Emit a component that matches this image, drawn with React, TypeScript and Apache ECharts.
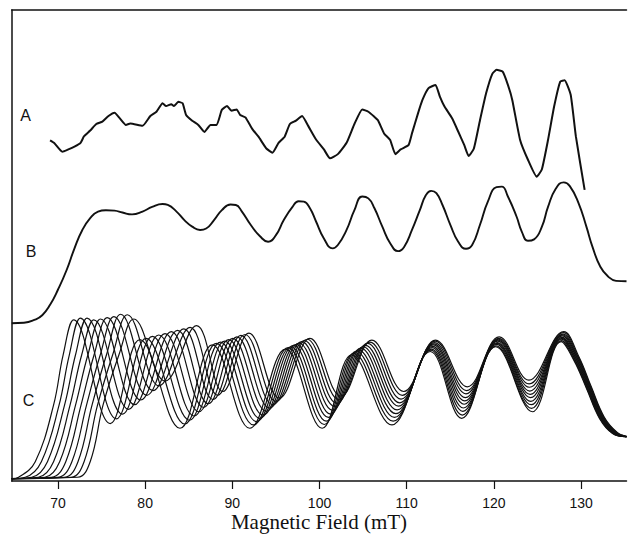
import React, { useEffect, useRef } from "react";
import * as echarts from "echarts";

// Field values in mT, signal in arbitrary units (0..100 of the vertical frame)
const fieldTicks = [70, 80, 90, 100, 110, 120, 130];
const axisTitle = "Magnetic Field (mT)";

const traceA: [number, number][] = [
  [69.1, 72.3], [69.6, 71.7], [70.5, 69.9], [71.2, 70.4], [71.9, 71.0], [72.6, 71.8], [73.0, 73.2],
  [73.7, 74.4], [74.4, 75.8], [75.1, 76.3], [75.8, 77.5], [76.5, 78.2], [77.1, 77.0], [77.8, 75.6],
  [78.3, 75.9], [79.7, 75.4], [80.6, 77.5], [81.3, 78.4], [82.0, 80.2], [82.4, 79.6], [83.0, 80.0],
  [83.3, 79.6], [83.8, 80.5], [84.3, 80.2], [84.7, 77.7], [85.4, 76.5], [86.1, 75.6], [86.8, 74.1],
  [87.5, 75.6], [88.2, 75.6], [88.8, 78.8], [89.4, 79.6], [89.9, 78.6], [90.5, 78.9], [90.9, 77.7],
  [91.5, 77.2], [92.3, 74.7], [93.0, 73.1], [93.9, 70.6], [94.6, 69.7], [95.3, 71.8], [96.0, 73.1],
  [96.6, 75.8], [97.3, 76.5], [98.0, 77.5], [98.7, 75.4], [99.6, 72.5], [100.5, 70.4], [101.2, 68.5],
  [102.1, 69.4], [103.1, 71.8], [104.0, 75.8], [104.9, 78.9], [105.6, 78.4], [106.3, 77.3], [106.7, 76.6],
  [107.4, 73.8], [108.1, 72.4], [108.7, 69.4], [109.3, 70.4], [110.2, 71.3], [110.6, 73.8], [111.3, 78.1],
  [111.8, 80.9], [112.5, 83.4], [113.3, 84.1], [113.8, 81.6], [114.3, 79.6], [115.2, 77.0], [115.9, 74.2],
  [116.6, 71.3], [117.1, 69.0], [117.7, 70.6], [118.4, 76.6], [119.1, 82.3], [119.8, 86.4], [120.3, 87.3],
  [121.0, 86.9], [121.6, 84.1], [122.1, 80.9], [123.0, 72.4], [123.9, 68.2], [124.9, 64.6], [125.5, 66.2],
  [126.2, 72.4], [126.9, 79.5], [127.6, 84.8], [128.1, 85.1], [128.8, 82.0], [129.4, 73.1], [130.4, 61.8],
];

const traceB: [number, number][] = [
  [64.7, 33.5], [66.1, 33.6], [67.3, 34.2], [68.2, 35.2], [69.1, 37.4], [70.0, 40.6],
  [71.0, 44.8], [71.9, 49.4], [72.8, 53.3], [73.7, 55.8], [74.6, 57.2], [75.5, 57.5], [76.5, 57.4],
  [77.4, 57.0], [78.5, 56.6], [79.7, 57.2], [80.8, 58.2], [82.0, 58.8], [82.6, 58.6], [83.6, 57.2],
  [84.5, 55.4], [85.4, 54.0], [86.3, 53.3], [87.0, 53.6], [87.9, 55.4], [88.8, 57.5], [89.8, 58.7],
  [90.4, 58.6], [91.1, 57.2], [92.1, 54.4], [93.2, 51.9], [94.1, 50.8], [95.0, 52.2], [95.9, 55.4],
  [96.9, 58.2], [97.6, 59.4], [98.2, 59.3], [98.9, 57.9], [99.6, 55.1], [100.5, 51.5], [101.5, 49.4],
  [102.1, 50.1], [103.1, 53.3], [104.0, 57.5], [104.9, 60.4], [105.6, 60.0], [106.3, 57.9], [107.2, 54.0],
  [108.1, 50.5], [109.0, 48.8], [109.7, 49.7], [110.6, 53.3], [111.5, 57.5], [112.2, 60.7], [112.8, 61.6],
  [113.4, 61.1], [114.1, 58.6], [115.0, 54.4], [115.9, 50.8], [116.8, 49.3], [117.5, 50.1], [118.4, 54.4],
  [119.3, 59.3], [120.3, 62.4], [120.9, 62.5], [121.6, 60.4], [122.6, 56.1], [123.2, 52.9], [123.9, 51.0],
  [124.6, 51.3], [125.5, 54.0], [126.2, 58.2], [127.1, 62.1], [128.0, 63.4], [128.7, 62.6], [129.7, 59.0],
  [130.6, 54.0], [131.3, 49.7], [132.2, 45.5], [133.1, 43.4], [134.0, 42.5], [135.2, 42.4],
];

const C1: [number, number][] = [
  [64.7, 0.5], [65.5, 0.8], [67.4, 4.1], [69.5, 16.1], [70.6, 26.8], [71.8, 34.2], [76.0, 12.2], [79.4, 30.0],
  [84.0, 11.2], [87.7, 28.9], [92.0, 11.2], [96.1, 28.0], [100.3, 11.2], [103.7, 26.8], [108.3, 11.9],
  [112.7, 27.5], [116.3, 13.3], [120.2, 28.5], [124.4, 14.7], [127.7, 29.6], [129.2, 25.5], [130.6, 19.7],
  [132.1, 13.3], [133.6, 10.1], [135.2, 9.4],
];
const C2: [number, number][] = [
  [64.7, 0.5], [66.25, 0.8], [68.1, 4.1], [70.13, 16.1], [71.31, 26.8], [72.57, 34.6], [76.7, 13.2], [80.12, 30.3],
  [84.54, 12.1], [88.17, 29.2], [92.42, 11.9], [96.41, 28.3], [100.54, 12.0], [103.96, 27.1], [108.45, 12.7],
  [112.77, 27.8], [116.37, 14.0], [120.25, 28.7], [124.31, 15.4], [127.73, 29.8], [129.26, 25.6], [130.66, 19.7],
  [132.16, 13.3], [133.66, 10.1], [135.2, 9.4],
];
const C3: [number, number][] = [
  [64.7, 0.5], [67.0, 0.8], [68.8, 4.1], [70.76, 16.1], [72.02, 26.8], [73.34, 34.6], [77.4, 14.2], [80.84, 30.7],
  [85.08, 12.9], [88.64, 29.5], [92.79, 12.6], [96.72, 28.5], [100.78, 12.7], [104.22, 27.5], [108.6, 13.5],
  [112.84, 28.0], [116.44, 14.8], [120.29, 29.0], [124.27, 16.2], [127.77, 30.1], [129.32, 25.7], [130.72, 19.8],
  [132.22, 13.3], [133.72, 10.1], [135.2, 9.4],
];
const C4: [number, number][] = [
  [64.7, 0.5], [67.75, 0.8], [69.5, 4.1], [71.39, 16.1], [72.73, 26.8], [74.11, 34.2], [78.1, 15.2], [81.56, 31.0],
  [85.62, 13.8], [89.11, 29.7], [93.16, 13.3], [97.03, 28.8], [101.02, 13.5], [104.48, 27.8], [108.75, 14.3],
  [112.91, 28.3], [116.51, 15.5], [120.34, 29.2], [124.23, 16.9], [127.8, 30.3], [129.38, 25.8], [130.78, 19.8],
  [132.28, 13.4], [133.78, 10.1], [135.2, 9.4],
];
const C5: [number, number][] = [
  [64.7, 0.5], [68.5, 0.8], [70.2, 4.1], [72.02, 16.1], [73.44, 26.8], [74.88, 34.4], [78.8, 16.2], [82.28, 31.3],
  [86.16, 14.7], [89.58, 30.0], [93.53, 14.0], [97.34, 29.0], [101.26, 14.2], [104.74, 28.2], [108.9, 15.1],
  [112.98, 28.6], [116.58, 16.3], [120.38, 29.4], [124.19, 17.7], [127.83, 30.5], [129.44, 25.9], [130.84, 19.9],
  [132.34, 13.4], [133.84, 10.2], [135.2, 9.4],
];
const C6: [number, number][] = [
  [64.7, 0.5], [69.25, 0.8], [70.9, 4.1], [72.65, 16.1], [74.15, 26.8], [75.65, 34.7], [79.5, 17.2], [83.0, 31.7],
  [86.7, 15.6], [90.05, 30.3], [93.9, 14.8], [97.65, 29.3], [101.5, 15.0], [105.0, 28.5], [109.05, 15.9],
  [113.05, 28.9], [116.65, 17.0], [120.43, 29.7], [124.15, 18.4], [127.87, 30.8], [129.5, 26.0], [130.9, 19.9],
  [132.4, 13.4], [133.9, 10.2], [135.2, 9.4],
];
const C7: [number, number][] = [
  [64.7, 0.5], [70.0, 0.8], [71.6, 4.1], [73.28, 16.1], [74.86, 26.8], [76.42, 34.9], [80.2, 18.2], [83.72, 32.0],
  [87.24, 16.4], [90.52, 30.6], [94.27, 15.5], [97.96, 29.6], [101.74, 15.8], [105.26, 28.8], [109.2, 16.6],
  [113.12, 29.1], [116.72, 17.7], [120.47, 29.9], [124.11, 19.1], [127.9, 31.0], [129.56, 26.1], [130.96, 20.0],
  [132.46, 13.5], [133.96, 10.2], [135.2, 9.4],
];
const C8: [number, number][] = [
  [64.7, 0.5], [70.75, 0.8], [72.3, 4.1], [73.91, 16.1], [75.57, 26.8], [77.19, 35.4], [80.9, 19.2], [84.44, 32.3],
  [87.78, 17.3], [90.99, 30.9], [94.64, 16.2], [98.27, 29.8], [101.98, 16.5], [105.52, 29.2], [109.35, 17.4],
  [113.19, 29.4], [116.79, 18.5], [120.52, 30.1], [124.07, 19.9], [127.93, 31.2], [129.62, 26.2], [131.02, 20.0],
  [132.52, 13.5], [134.02, 10.2], [135.2, 9.4],
];
const C9: [number, number][] = [
  [64.7, 0.5], [71.5, 0.8], [73.0, 4.1], [74.54, 16.1], [76.28, 26.8], [77.96, 35.3], [81.6, 20.2], [85.16, 32.6],
  [88.32, 18.2], [91.46, 31.1], [95.01, 16.9], [98.58, 30.1], [102.22, 17.3], [105.78, 29.5], [109.5, 18.2],
  [113.26, 29.7], [116.86, 19.2], [120.56, 30.3], [124.03, 20.6], [127.96, 31.5], [129.68, 26.3], [131.08, 20.1],
  [132.58, 13.6], [134.08, 10.3], [135.2, 9.5],
];
const C10: [number, number][] = [
  [64.7, 0.5], [72.25, 0.8], [73.7, 4.1], [75.17, 16.1], [77.0, 26.8], [78.7, 34.4], [82.3, 21.2], [85.9, 33.0],
  [88.9, 19.0], [91.9, 31.4], [95.4, 17.6], [98.9, 30.3], [102.45, 18.0], [106.0, 29.9], [109.65, 19.0],
  [113.3, 29.9], [116.95, 20.0], [120.6, 30.6], [124.0, 21.4], [128.0, 31.7], [129.74, 26.4], [131.14, 20.1],
  [132.64, 13.6], [134.14, 10.3], [135.2, 9.5],
];

const familyC = [C1, C2, C3, C4, C5, C6, C7, C8, C9, C10];
const traceLabels = ["A", "B", "C"];

const INK = "#111";

export default function App() {
  const ref = useRef<HTMLDivElement>(null);

  useEffect(() => {
    if (!ref.current) return;
    const chart = echarts.init(ref.current, undefined, { renderer: "svg" });

    const cSeries = familyC.map((d, i) => ({
      type: "line",
      name: "C" + (i + 1),
      data: d,
      showSymbol: false,
      smooth: 0.4,
      lineStyle: { color: INK, width: 1.2 },
      z: 2,
    }));

    const labelPos = [
      [25.5, 115],
      [31, 251.5],
      [28.5, 400],
    ];

    const traceLabelGraphics = traceLabels.map((t, i) => ({
      type: "text",
      x: labelPos[i][0],
      y: labelPos[i][1],
      style: {
        text: t,
        fill: INK,
        fontSize: 16,
        fontFamily: "Liberation Sans, Arial, sans-serif",
        align: "center",
        verticalAlign: "middle",
      },
    }));

    chart.setOption({
      animation: false,
      backgroundColor: "#fff",
      grid: { left: 11.7, right: 1.5, top: 10, bottom: 54, outerBoundsMode: "none" },
      xAxis: [
        {
          type: "value",
          position: "bottom",
          min: 64.7,
          max: 135.2,
          axisLine: { show: true, onZero: false, lineStyle: { color: INK, width: 1.5 } },
          axisTick: {
            show: true,
            customValues: fieldTicks,
            length: 8,
            lineStyle: { color: INK, width: 1.2 },
          },
          axisLabel: {
            show: true,
            customValues: fieldTicks,
            margin: 15,
            color: INK,
            fontSize: 14,
            fontFamily: "Liberation Sans, Arial, sans-serif",
          },
          splitLine: { show: false },
        },
        {
          type: "value",
          position: "top",
          min: 64.7,
          max: 135.2,
          axisLine: { show: true, onZero: false, lineStyle: { color: INK, width: 1.5 } },
          axisTick: { show: false },
          axisLabel: { show: false },
          splitLine: { show: false },
        },
      ],
      yAxis: {
        type: "value",
        min: 0,
        max: 100,
        axisLine: { show: true, onZero: false, lineStyle: { color: INK, width: 1.5 } },
        axisTick: { show: false },
        axisLabel: { show: false },
        splitLine: { show: false },
      },
      series: [
        {
          type: "line",
          name: "A",
          data: traceA,
          showSymbol: false,
          smooth: 0.15,
          lineStyle: { color: INK, width: 2 },
        },
        {
          type: "line",
          name: "B",
          data: traceB,
          showSymbol: false,
          smooth: 0.5,
          lineStyle: { color: INK, width: 1.9 },
        },
        ...cSeries,
      ],
      graphic: [
        ...traceLabelGraphics,
        {
          type: "text",
          x: 319,
          y: 522,
          style: {
            text: axisTitle,
            fill: INK,
            fontSize: 21,
            fontFamily: "Liberation Serif, Times New Roman, serif",
            align: "center",
            verticalAlign: "middle",
          },
        },
      ],
    });

    return () => chart.dispose();
  }, []);

  return (
    <div
      ref={ref}
      style={{ position: "absolute", left: 0, top: 0, width: 628, height: 535, background: "#fff" }}
    />
  );
}
